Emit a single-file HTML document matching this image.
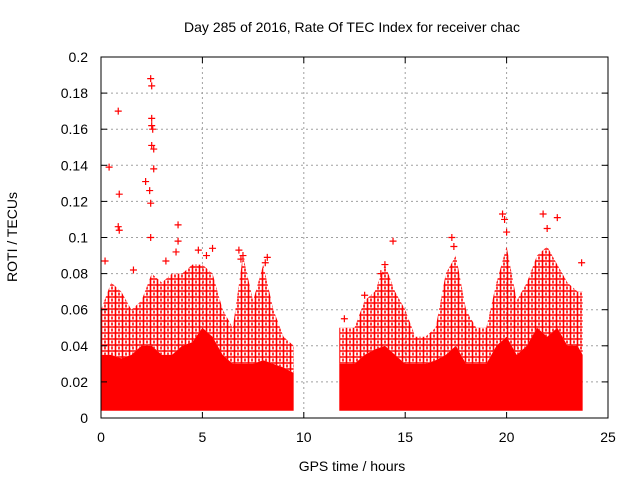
<!DOCTYPE html>
<html><head><meta charset="utf-8"><style>
body{margin:0;background:#fff}
svg{display:block;font-family:"Liberation Sans",Arial,sans-serif}
</style></head><body>
<svg id="chart" width="640" height="480">
<defs>
<pattern id="crossPat" width="7" height="6" patternUnits="userSpaceOnUse">
<path d="M3.5 0V6M0 3H7" stroke="#f00" stroke-width="1.6"/>
<path d="M0 0V1.5M7 0V1.5M0 6V4.5M7 6V4.5" stroke="#f00" stroke-width="1.6"/>
</pattern>
</defs>
</svg>
<script>
const hoursA=[0,0.5,1,1.5,2,2.5,3,3.5,4,4.5,5,5.5,6,6.5,7,7.5,8,8.5,9,9.5];
const denseA=[0.035,0.035,0.033,0.035,0.04,0.04,0.035,0.035,0.04,0.042,0.05,0.045,0.035,0.03,0.03,0.03,0.032,0.03,0.028,0.025];
const sparseA=[0.06,0.075,0.07,0.06,0.065,0.08,0.075,0.08,0.08,0.085,0.085,0.08,0.06,0.05,0.09,0.065,0.085,0.06,0.045,0.04];
const hoursB=[11.75,12.5,13,13.5,14,14.5,15,15.5,16,16.5,17,17.5,18,18.5,19,19.5,20,20.5,21,21.5,22,22.5,23,23.5,23.75];
const denseB=[0.03,0.03,0.035,0.038,0.04,0.035,0.03,0.03,0.03,0.032,0.035,0.04,0.03,0.03,0.03,0.04,0.045,0.035,0.04,0.05,0.045,0.05,0.04,0.04,0.035];
const sparseB=[0.05,0.05,0.065,0.07,0.085,0.07,0.06,0.045,0.045,0.05,0.08,0.09,0.06,0.05,0.05,0.075,0.095,0.065,0.075,0.09,0.095,0.085,0.075,0.07,0.07];
const lowerVal=0.004;
const outX=[0.4,0.85,0.9,0.85,0.9,2.2,2.4,2.45,2.45,2.5,2.5,2.5,2.55,2.5,2.6,2.6,2.45,3.8,3.8,3.7,4.8,5.5,6.8,7.0,8.2,14.4,17.3,17.4,19.8,19.9,20.0,21.8,22.0,22.5,23.7,12,13.0,13.8,14.0,0.2,1.6,3.2,5.2,6.9,8.1];
const outY=[0.139,0.17,0.124,0.106,0.104,0.131,0.126,0.119,0.188,0.184,0.166,0.162,0.16,0.151,0.149,0.138,0.1,0.107,0.098,0.092,0.093,0.094,0.093,0.09,0.089,0.098,0.1,0.095,0.113,0.11,0.103,0.113,0.105,0.111,0.086,0.055,0.068,0.08,0.085,0.087,0.082,0.087,0.09,0.088,0.086];
const xTicks=[0,5,10,15,20,25];
const yTicks=[0,0.02,0.04,0.06,0.08,0.1,0.12,0.14,0.16,0.18,0.2];
const yTickLabels=["0","0.02","0.04","0.06","0.08","0.1","0.12","0.14","0.16","0.18","0.2"];

const L=101,R=608,T=57,B=418;
const sx=v=>L+(v/25)*(R-L);
const sy=v=>B-(v/0.2)*(B-T);
const svg=document.getElementById('chart');
const NS='http://www.w3.org/2000/svg';
function mk(tag,attrs,parent){const e=document.createElementNS(NS,tag);for(const k in attrs)e.setAttribute(k,attrs[k]);(parent||svg).appendChild(e);return e;}

xTicks.forEach((t,i)=>{
 if(i>0&&i<xTicks.length-1){const g=mk('line',{x1:sx(t),x2:sx(t),y1:T,y2:B,stroke:'#a0a0a0','stroke-dasharray':'2,3','stroke-width':1});
 
 }
});
yTicks.forEach((t,i)=>{
 if(i>0&&i<yTicks.length-1){const g=mk('line',{x1:L,x2:R,y1:sy(t),y2:sy(t),stroke:'#a0a0a0','stroke-dasharray':'2,3','stroke-width':1});
 
 }
});

function band(hours,top,bot,fill,name){
 let d='M'+sx(hours[0])+' '+sy(bot[0]);
 hours.forEach((h,i)=>{d+=' L'+sx(h)+' '+sy(top[i]);});
 for(let i=hours.length-1;i>=0;i--)d+=' L'+sx(hours[i])+' '+sy(bot[i]);
 d+='Z';
 const p=mk('path',{d:d,fill:fill});
 
 
}
const lowA=hoursA.map(()=>lowerVal), lowB=hoursB.map(()=>lowerVal);
band(hoursA,sparseA,denseA,'url(#crossPat)','sparse-band-a');
band(hoursB,sparseB,denseB,'url(#crossPat)','sparse-band-b');
band(hoursA,denseA,lowA,'#f00','dense-band-a');
band(hoursB,denseB,lowB,'#f00','dense-band-b');

outX.forEach((x,i)=>{
 const cx=sx(x),cy=sy(outY[i]);
 const p=mk('path',{d:`M${cx-3.5} ${cy}H${cx+3.5}M${cx} ${cy-3.5}V${cy+3.5}`,stroke:'#f00','stroke-width':1.2,fill:'none'});
 
 
});

const fr=mk('rect',{x:L,y:T,width:R-L,height:B-T,fill:'none',stroke:'#000','stroke-width':1});



xTicks.forEach(t=>{
 mk('line',{x1:sx(t),x2:sx(t),y1:B,y2:B-6,stroke:'#000'});
 mk('line',{x1:sx(t),x2:sx(t),y1:T,y2:T+6,stroke:'#000'});
 const tx=mk('text',{x:sx(t),y:442,'text-anchor':'middle','font-size':14,fill:'#000'});
 tx.textContent=String(t);
 
 
});
yTicks.forEach((t,i)=>{
 mk('line',{x1:L,x2:L+6,y1:sy(t),y2:sy(t),stroke:'#000'});
 mk('line',{x1:R,x2:R-6,y1:sy(t),y2:sy(t),stroke:'#000'});
 const tx=mk('text',{x:88,y:sy(t)+5,'text-anchor':'end','font-size':14,fill:'#000'});
 tx.textContent=yTickLabels[i];
 
 
});

const title=mk('text',{x:352,y:32,'text-anchor':'middle','font-size':14,fill:'#000'});
title.textContent='Day 285 of 2016, Rate Of TEC Index for receiver chac';


const xl=mk('text',{x:352,y:471,'text-anchor':'middle','font-size':14,fill:'#000'});
xl.textContent='GPS time / hours';


const yl=mk('text',{x:0,y:0,'text-anchor':'middle','font-size':14,fill:'#000',transform:'translate(17,237) rotate(-90)'});
yl.textContent='ROTI / TECUs';


</script>
</body></html>
